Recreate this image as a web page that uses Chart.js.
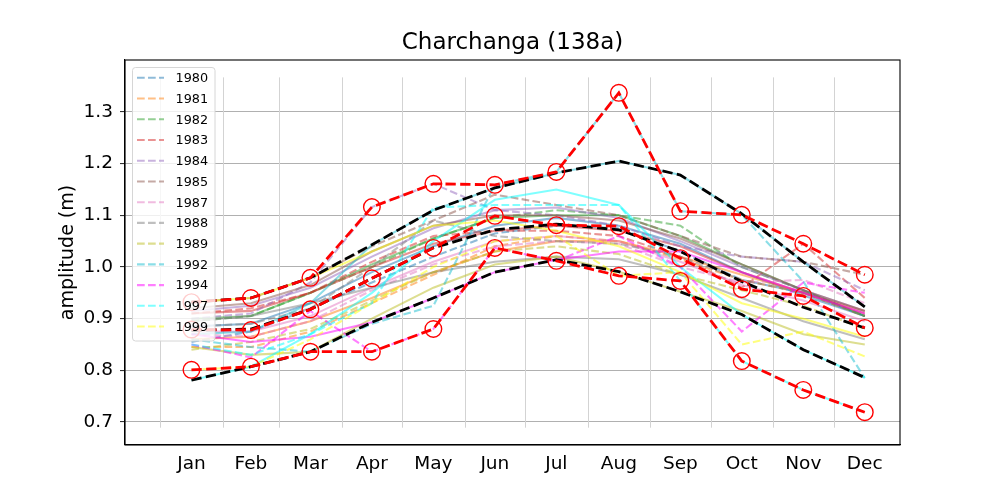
<!DOCTYPE html>
<html>
<head>
<meta charset="utf-8">
<script src="https://cdn.jsdelivr.net/npm/chart.js@4.4.0/dist/chart.umd.min.js"></script>
<style>
html,body{margin:0;padding:0;background:#fff;}
#wrap{width:1000px;height:500px;}
</style>
</head>
<body>
<div id="wrap"><canvas id="c" width="1000" height="500"></canvas></div>
<script>
// ---------- data ----------
const months = ['Jan','Feb','Mar','Apr','May','Jun','Jul','Aug','Sep','Oct','Nov','Dec'];
const monthDays = [16.5, 46, 75.5, 106, 136.5, 167, 197.5, 228.5, 259, 289.5, 320, 350.5];
const monthStarts = [1, 32, 60, 91, 121, 152, 182, 213, 244, 274, 305, 335];
const yTicks = [0.7, 0.8, 0.9, 1.0, 1.1, 1.2, 1.3];
const vlineRange = [0.689, 1.367];

const years = ['1980','1981','1982','1983','1984','1985','1987','1988','1989','1992','1994','1997','1999'];
const yearColors = [
  [31,119,180],[255,127,14],[44,160,44],[214,39,40],[148,103,189],[140,86,75],
  [227,119,194],[127,127,127],[188,189,34],[23,190,207],[255,0,255],[0,255,255],[255,255,0]
];

// observed (dashed) monthly amplitude per year
const obs1980 = [0.855, 0.875, 0.920, 0.970, 1.020, 1.065, 1.080, 1.075, 1.030, 0.975, 0.950, 0.905];
const obs1981 = [0.845, 0.845, 0.875, 0.930, 0.985, 1.040, 1.060, 1.050, 1.015, 0.975, 0.950, 0.905];
const obs1982 = [0.895, 0.905, 0.950, 1.000, 1.055, 1.095, 1.110, 1.100, 1.080, 1.000, 0.955, 0.905];
const obs1983 = [0.910, 0.920, 0.950, 1.010, 1.060, 1.070, 1.070, 1.060, 1.020, 0.960, 1.045, 0.940];
const obs1984 = [0.900, 0.910, 0.970, 1.116, 1.161, 1.110, 1.100, 1.080, 1.040, 1.020, 1.010, 0.955];
const obs1985 = [0.932, 0.940, 0.979, 1.040, 1.090, 1.140, 1.120, 1.100, 1.060, 1.020, 1.010, 0.985];
const obs1987 = [0.870, 0.865, 0.895, 0.955, 1.005, 1.040, 1.050, 1.045, 1.000, 0.970, 0.975, 0.930];
const obs1988 = [0.885, 0.890, 0.920, 1.000, 1.090, 1.060, 1.050, 1.045, 1.020, 0.975, 0.950, 0.905];
const obs1989 = [0.840, 0.855, 0.880, 0.935, 0.990, 1.030, 1.040, 1.025, 0.985, 0.955, 0.925, 0.880];
const obs1992 = [0.860, 0.845, 0.836, 0.890, 0.925, 1.159, 1.184, 1.337, 1.108, 1.101, 0.972, 0.785];
const obs1994 = [0.850, 0.825, 0.915, 0.836, 0.880, 1.037, 1.012, 1.060, 1.000, 0.875, 0.970, 0.950];
const obs1997 = [0.850, 0.830, 0.870, 0.930, 1.115, 1.120, 1.120, 1.120, 0.973, 0.818, 0.762, 0.719];
const obs1999 = [0.801, 0.807, 0.860, 0.930, 1.000, 1.050, 1.060, 0.983, 0.990, 0.850, 0.875, 0.827];

// smoothed (solid) monthly amplitude per year
const fit1980 = [0.885, 0.890, 0.930, 0.990, 1.040, 1.080, 1.095, 1.080, 1.045, 0.990, 0.945, 0.905];
const fit1981 = [0.860, 0.865, 0.895, 0.940, 0.990, 1.030, 1.050, 1.050, 1.020, 0.985, 0.950, 0.915];
const fit1982 = [0.900, 0.905, 0.950, 1.005, 1.055, 1.095, 1.100, 1.100, 1.060, 1.005, 0.955, 0.905];
const fit1983 = [0.910, 0.915, 0.950, 1.000, 1.045, 1.070, 1.080, 1.070, 1.040, 0.990, 0.950, 0.910];
const fit1984 = [0.915, 0.925, 0.960, 1.020, 1.075, 1.110, 1.115, 1.095, 1.050, 1.000, 0.955, 0.915];
const fit1985 = [0.920, 0.930, 0.965, 1.030, 1.080, 1.100, 1.100, 1.090, 1.055, 1.005, 0.955, 0.915];
const fit1987 = [0.875, 0.875, 0.905, 0.960, 1.010, 1.050, 1.060, 1.050, 1.010, 0.965, 0.935, 0.895];
const fit1988 = [0.895, 0.905, 0.930, 0.960, 0.990, 1.010, 1.020, 1.015, 0.985, 0.940, 0.895, 0.860];
const fit1989 = [0.845, 0.830, 0.836, 0.900, 0.960, 1.005, 1.020, 0.991, 0.952, 0.915, 0.870, 0.850];
const fit1992 = [0.870, 0.875, 0.930, 1.043, 1.110, 1.153, 1.182, 1.205, 1.178, 1.103, 1.010, 0.923];
const fit1994 = [0.870, 0.855, 0.865, 0.893, 0.940, 0.990, 1.014, 1.030, 1.030, 0.990, 0.950, 0.910];
const fit1997 = [0.781, 0.807, 0.870, 0.950, 1.050, 1.130, 1.150, 1.120, 1.000, 0.908, 0.840, 0.786];
const fit1999 = [0.932, 0.940, 0.979, 1.030, 1.080, 1.090, 1.070, 1.040, 0.990, 0.930, 0.900, 0.865];

// envelopes
const obsMax  = [0.932, 0.940, 0.979, 1.116, 1.161, 1.159, 1.184, 1.337, 1.108, 1.101, 1.045, 0.985];
const obsMean = [0.879, 0.878, 0.918, 0.978, 1.037, 1.099, 1.081, 1.079, 1.017, 0.957, 0.944, 0.882];
const obsMin  = [0.801, 0.807, 0.836, 0.836, 0.880, 1.037, 1.012, 0.983, 0.973, 0.818, 0.762, 0.719];
const fitMax  = [0.932, 0.940, 0.979, 1.043, 1.110, 1.153, 1.182, 1.205, 1.178, 1.103, 1.010, 0.923];
const fitMean = [0.877, 0.880, 0.918, 0.978, 1.037, 1.072, 1.083, 1.072, 1.030, 0.972, 0.922, 0.882];
const fitMin  = [0.781, 0.807, 0.836, 0.893, 0.940, 0.990, 1.014, 0.991, 0.952, 0.908, 0.840, 0.786];

const obsSeries = [obs1980, obs1981, obs1982, obs1983, obs1984, obs1985, obs1987, obs1988, obs1989, obs1992, obs1994, obs1997, obs1999];
const fitSeries = [fit1980, fit1981, fit1982, fit1983, fit1984, fit1985, fit1987, fit1988, fit1989, fit1992, fit1994, fit1997, fit1999];

// ---------- build ----------
const FONT = 'DejaVu Sans';
Chart.defaults.font.family = FONT;

function rgba(c, a) { return 'rgba(' + c[0] + ',' + c[1] + ',' + c[2] + ',' + a + ')'; }
function pts(vals) { return monthDays.map((d, i) => ({x: d, y: vals[i]})); }
function lineDs(label, vals, color, extra) {
  return Object.assign({
    label: label, data: pts(vals), borderColor: color, backgroundColor: color,
    borderWidth: 2.08, pointRadius: 0, pointHoverRadius: 0, tension: 0, fill: false
  }, extra || {});
}

const datasets = [];
const envStyle = {borderWidth: 2.78, borderDash: [10.3, 4.4]};
const redStyle = Object.assign({}, envStyle, {pointRadius: 8.3, pointBorderWidth: 1.4,
  pointBorderColor: '#ff0000', pointBackgroundColor: 'rgba(0,0,0,0)'});
datasets.push(lineDs('max obs', obsMax, '#ff0000', redStyle));
datasets.push(lineDs('mean obs', obsMean, '#ff0000', redStyle));
datasets.push(lineDs('min obs', obsMin, '#ff0000', redStyle));
datasets.push(lineDs('max fit', fitMax, '#000000', envStyle));
datasets.push(lineDs('mean fit', fitMean, '#000000', envStyle));
datasets.push(lineDs('min fit', fitMin, '#000000', envStyle));

const legendItems = [];
for (let k = years.length - 1; k >= 0; k--) {
  const col = rgba(yearColors[k], 0.5);
  datasets.push(lineDs(years[k], obsSeries[k], col, {borderDash: [7.7, 3.3]}));
  datasets.push(lineDs('', fitSeries[k], col, {}));
}
for (let k = 0; k < years.length; k++) legendItems.push({text: years[k], color: rgba(yearColors[k], 0.5)});

const decor = {
  id: 'decor',
  beforeDatasetsDraw(chart) {
    const ctx = chart.ctx, x = chart.scales.x, y = chart.scales.y;
    ctx.save();
    ctx.strokeStyle = '#d3d3d3';
    ctx.lineWidth = 1;
    const y0 = y.getPixelForValue(vlineRange[0]), y1 = y.getPixelForValue(vlineRange[1]);
    monthStarts.forEach(d => {
      const px = Math.round(x.getPixelForValue(d)) + 0.5;
      ctx.beginPath(); ctx.moveTo(px, y0); ctx.lineTo(px, y1); ctx.stroke();
    });
    ctx.restore();
  },
  afterDatasetsDraw(chart) {
    const ctx = chart.ctx, a = chart.chartArea;
    const L = a.left + 7.5, T = a.top + 7.5, W = 82.5, H = 273.5;
    ctx.save();
    ctx.beginPath();
    ctx.roundRect(L, T, W, H, 3);
    ctx.fillStyle = 'rgba(255,255,255,0.8)';
    ctx.fill();
    ctx.strokeStyle = '#d6d6d6';
    ctx.lineWidth = 1;
    ctx.stroke();
    ctx.font = '12.8px "' + FONT + '"';
    ctx.textBaseline = 'middle';
    ctx.textAlign = 'left';
    legendItems.forEach((it, i) => {
      const cy = a.top + 17.8 + i * 20.73;
      ctx.strokeStyle = it.color;
      ctx.lineWidth = 2.08;
      ctx.setLineDash([7.7, 3.3]);
      ctx.beginPath(); ctx.moveTo(L + 4.5, cy); ctx.lineTo(L + 31.5, cy); ctx.stroke();
      ctx.setLineDash([]);
      ctx.fillStyle = '#000';
      ctx.fillText(it.text, L + 43, cy + 1);
    });
    ctx.restore();
  },
  afterDraw(chart) {
    const ctx = chart.ctx, a = chart.chartArea;
    ctx.save();
    ctx.strokeStyle = '#000';
    ctx.lineWidth = 1.1;
    ctx.strokeRect(a.left, a.top, a.right - a.left, a.bottom - a.top);
    ctx.restore();
  }
};

new Chart(document.getElementById('c'), {
  type: 'line',
  data: {datasets: datasets},
  plugins: [decor],
  options: {
    responsive: false,
    animation: false,
    devicePixelRatio: 1,
    events: [],
    layout: {padding: {left: 0, right: 100, top: 0, bottom: 0}},
    plugins: {
      legend: {display: false},
      tooltip: {enabled: false},
      title: {
        display: true, fullSize: false, text: 'Charchanga (138a)', color: '#000',
        font: {family: FONT, size: 23, weight: 'normal', lineHeight: 1.2},
        padding: {top: 29.5, bottom: 2.9}
      }
    },
    scales: {
      x: {
        type: 'linear', min: -16.475, max: 367.975,
        afterBuildTicks: s => { s.ticks = monthDays.map(v => ({value: v})); },
        ticks: {autoSkip: false, maxRotation: 0, minRotation: 0, padding: 8, color: '#000',
          font: {family: FONT, size: 18.5}, callback: (v, i) => months[i]},
        grid: {display: false, drawTicks: false},
        border: {display: true, color: '#000', width: 1.1},
        afterFit: s => { s.height = 55; }
      },
      y: {
        type: 'linear', min: 0.6555, max: 1.4006,
        afterBuildTicks: s => { s.ticks = yTicks.map(v => ({value: v})); },
        ticks: {padding: 7, color: '#000', font: {family: FONT, size: 18.5},
          callback: v => Number(v).toFixed(1)},
        grid: {color: '#b0b0b0', lineWidth: 1.1, drawTicks: true, tickLength: 5, tickColor: '#333'},
        border: {display: true, color: '#000', width: 1.1},
        title: {display: true, text: 'amplitude (m)', color: '#000',
          font: {family: FONT, size: 19, lineHeight: 1.2}, padding: {top: 56.6, bottom: 0}},
        afterFit: s => { s.width = 125; }
      }
    }
  }
});
</script>
</body>
</html>
